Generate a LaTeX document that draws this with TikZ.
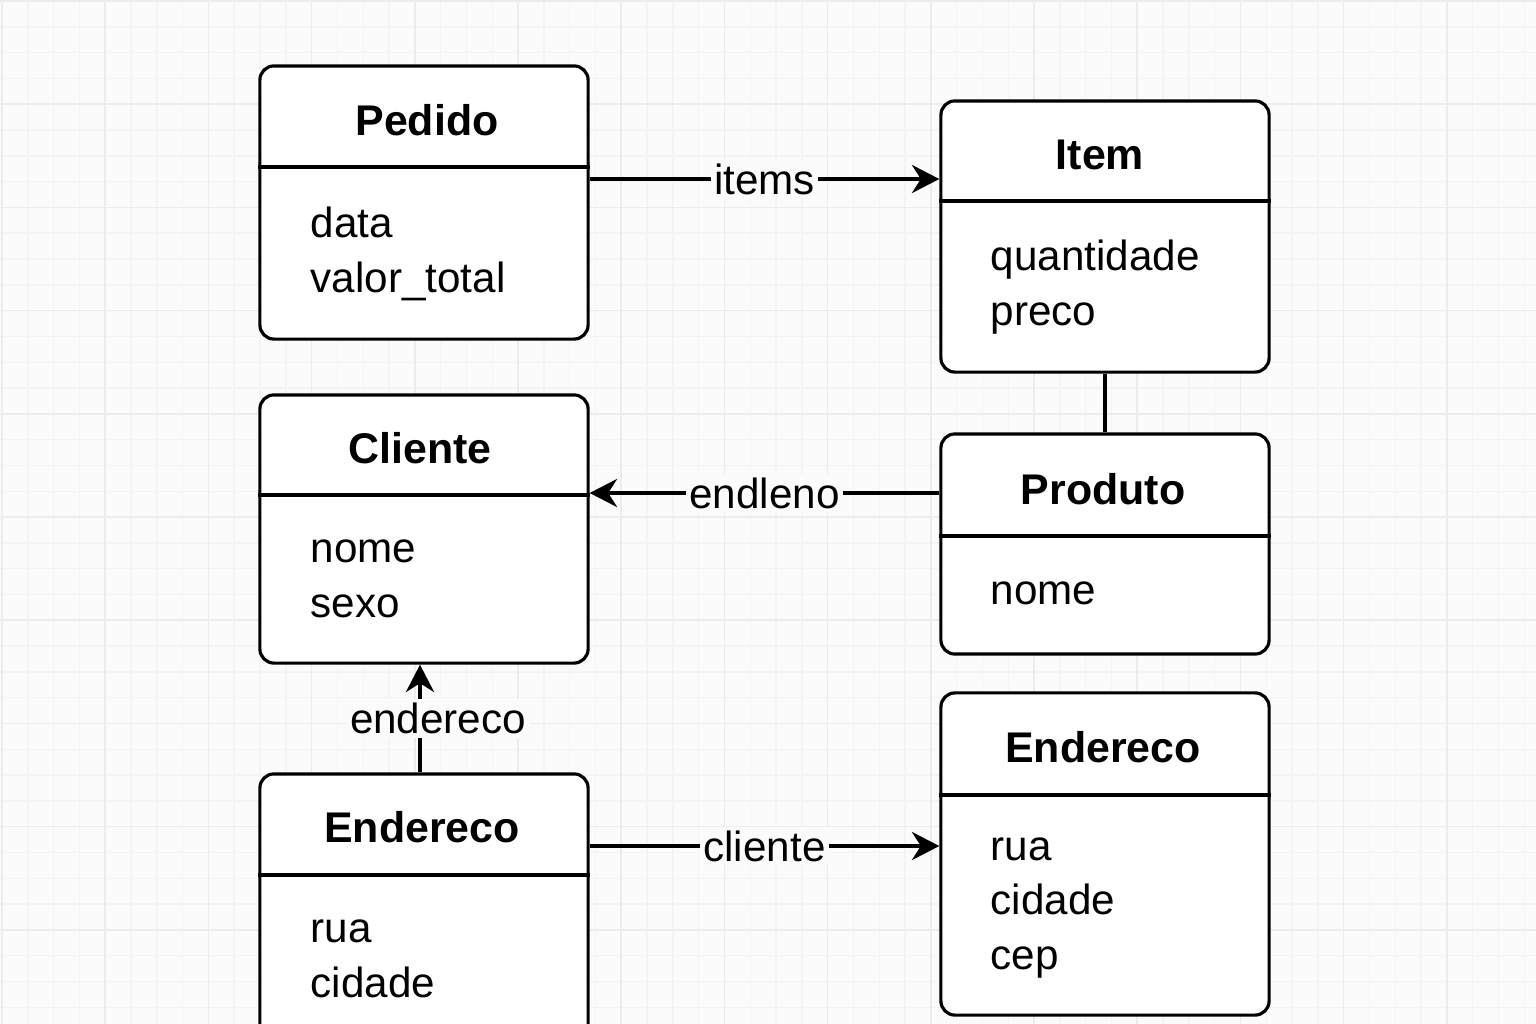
\documentclass[tikz,border=0pt]{standalone}
\usepackage{fontspec}
\setmainfont{Liberation Sans}
\usepackage{xcolor}
\usepackage{tikz}
\usetikzlibrary{arrows.meta}
\definecolor{paper}{HTML}{FBFBFB}
\definecolor{gridminor}{HTML}{F4F4F4}
\definecolor{gridmajor}{HTML}{ECECEC}
\tikzstyle{classe} = [rectangle, rounded corners=4pt, minimum width=3.28cm, draw=black, fill=white, line width=0.9pt]
\tikzstyle{titulo} = [anchor=base, inner sep=0pt, font=\fontsize{12.2}{15}\selectfont\bfseries]
\tikzstyle{atributos} = [anchor=base west, align=left, inner sep=0pt, font=\fontsize{12}{15.4}\selectfont]
\tikzstyle{divisor} = [line width=0.9pt]
\tikzstyle{arrow} = [line width=0.9pt,->,>={Stealth[length=7.8pt,width=8pt]}]
\tikzstyle{rotulo} = [fill=paper, inner sep=1pt, font=\fontsize{12}{14}\selectfont]

\begin{document}
\begin{tikzpicture}[x=0.01cm, y=-0.01cm]
   \clip (0,0) rectangle (1536,1024);
   % fundo quadriculado
   \fill [paper] (0,0) rectangle (1536,1024);
   \foreach \i in {0,...,60} \draw [gridminor, line width=0.4pt] (2+\i*25.8,0) -- (2+\i*25.8,1024);
   \foreach \i in {0,...,40} \draw [gridminor, line width=0.4pt] (0,1+\i*25.8) -- (1536,1+\i*25.8);
   \foreach \i in {0,...,15} \draw [gridmajor, line width=0.5pt] (2+\i*103.2,0) -- (2+\i*103.2,1024);
   \foreach \i in {0,...,10} \draw [gridmajor, line width=0.5pt] (0,1+\i*103.2) -- (1536,1+\i*103.2);

   % classes (atributos ancorados na ultima linha)
   \node (pedido) [classe, minimum height=2.73cm] at (424,202.5) {};
   \node (pedidoT) [titulo] at (427,135) {Pedido};
   \draw [divisor] (pedido.west |- 0,167) -- (pedido.east |- 0,167);
   \node (pedidoA) [atributos] at (310,292) {data\\valor\_total};

   \node (item) [classe, minimum height=2.71cm] at (1105,236.5) {};
   \node (itemT) [titulo] at (1100,169) {Item};
   \draw [divisor] (item.west |- 0,201) -- (item.east |- 0,201);
   \node (itemA) [atributos] at (990,325) {quantidade\\preco};

   \node (cliente) [classe, minimum height=2.68cm] at (424,529) {};
   \node (clienteT) [titulo] at (420,463) {Cliente};
   \draw [divisor] (cliente.west |- 0,495) -- (cliente.east |- 0,495);
   \node (clienteA) [atributos] at (310,617) {nome\\sexo};

   \node (produto) [classe, minimum height=2.2cm] at (1105,544) {};
   \node (produtoT) [titulo] at (1103,504) {Produto};
   \draw [divisor] (produto.west |- 0,536) -- (produto.east |- 0,536);
   \node (produtoA) [atributos] at (990,604) {nome};

   \node (enderecoL) [classe, minimum height=2.96cm] at (424,922) {};
   \node (enderecoLT) [titulo] at (422,842) {Endereco};
   \draw [divisor] (enderecoL.west |- 0,875) -- (enderecoL.east |- 0,875);
   \node (enderecoLA) [atributos] at (310,997) {rua\\cidade};

   \node (enderecoR) [classe, minimum height=3.22cm] at (1105,854) {};
   \node (enderecoRT) [titulo] at (1103,762) {Endereco};
   \draw [divisor] (enderecoR.west |- 0,795) -- (enderecoR.east |- 0,795);
   \node (enderecoRA) [atributos] at (990,969) {rua\\cidade\\cep};

   % ligacoes
   \draw [arrow] (pedido.east |- 0,179) -- node[rotulo] {items} (item.west |- 0,179);
   \draw [arrow] (produto.west |- 0,493) -- node[rotulo] {endleno} (cliente.east |- 0,493);
   \draw [arrow] ([xshift=-0.04cm]enderecoL.north) -- node[rotulo, xshift=0.18cm] {endereco} ([xshift=-0.04cm]cliente.south);
   \draw [arrow] (enderecoL.east |- 0,846) -- node[rotulo] {cliente} (enderecoR.west |- 0,846);
   \draw [divisor] (item.south) -- (produto.north);
\end{tikzpicture}
\end{document}
